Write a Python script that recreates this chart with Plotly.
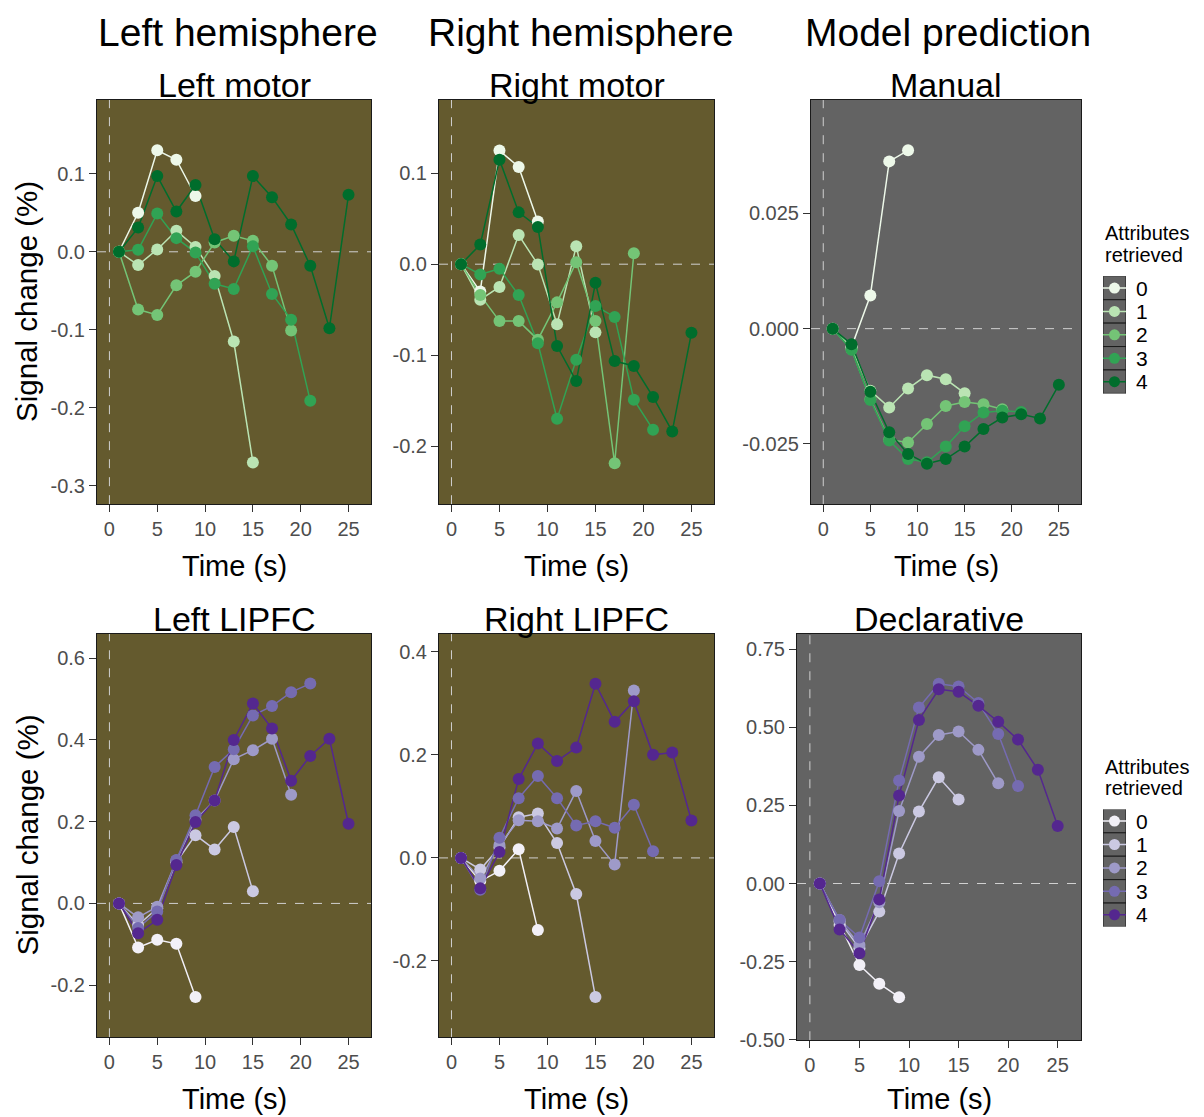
import plotly.graph_objects as go

# ---------------- data ----------------
TIME = [1, 3, 5, 7, 9, 11, 13, 15, 17, 19, 21, 23, 25]
ATTRIBUTES = ["0", "1", "2", "3", "4"]

LEFT_MOTOR = [
    [0, 0.05, 0.13, 0.118, 0.0715],
    [0, -0.017, 0.003, 0.027, 0.006, -0.031, -0.115, -0.27],
    [0, -0.074, -0.081, -0.043, -0.0255, 0.012, 0.0205, 0.014, -0.018, -0.101],
    [0, 0.0025, 0.049, 0.0175, -0.001, -0.041, -0.0476, 0.007, -0.054, -0.087, -0.191],
    [0, 0.031, 0.097, 0.0516, 0.0856, 0.016, -0.0123, 0.097, 0.070, 0.035, -0.018, -0.098, 0.073],
]
RIGHT_MOTOR = [
    [0, -0.03, 0.125, 0.107, 0.047],
    [0, -0.039, -0.025, 0.032, -0.0003, -0.066, 0.0198, -0.075],
    [0, -0.034, -0.0626, -0.0626, -0.083, -0.042, 0.0022, -0.0626, -0.219, 0.012],
    [0, -0.0113, -0.005, -0.034, -0.087, -0.170, -0.105, -0.046, -0.058, -0.149, -0.182],
    [0, 0.0216, 0.115, 0.057, 0.041, -0.090, -0.1286, -0.0205, -0.1066, -0.112, -0.146, -0.184, -0.0755],
]
MANUAL = [
    [0, -0.004, 0.0072, 0.0363, 0.0387],
    [0, -0.0041, -0.0135, -0.0171, -0.013, -0.0101, -0.011, -0.014],
    [0, -0.0045, -0.0153, -0.0241, -0.0247, -0.0207, -0.0168, -0.0159, -0.0164, -0.0175],
    [0, -0.0046, -0.0155, -0.0243, -0.0283, -0.029, -0.0256, -0.0212, -0.0182, -0.0178, -0.0181],
    [0, -0.0034, -0.0137, -0.0225, -0.0272, -0.0293, -0.0283, -0.0256, -0.0218, -0.0193, -0.0186, -0.0195, -0.0122],
]
LEFT_LIPFC = [
    [0, -0.108, -0.089, -0.099, -0.229],
    [0, -0.053, -0.012, 0.101, 0.167, 0.132, 0.187, 0.03],
    [0, -0.034, -0.008, 0.105, 0.205, 0.252, 0.353, 0.375, 0.403, 0.266],
    [0, -0.06, -0.02, 0.106, 0.216, 0.334, 0.377, 0.46, 0.483, 0.517, 0.538],
    [0, -0.073, -0.04, 0.094, 0.199, 0.252, 0.40, 0.489, 0.428, 0.30, 0.361, 0.403, 0.195],
]
RIGHT_LIPFC = [
    [0, -0.045, -0.025, 0.017, -0.14],
    [0, -0.0225, 0.02, 0.079, 0.086, 0.029, -0.07, -0.27],
    [0, -0.04, 0.025, 0.073, 0.071, 0.057, 0.13, 0.033, -0.013, 0.325],
    [0, -0.062, 0.039, 0.116, 0.159, 0.116, 0.063, 0.071, 0.0585, 0.103, 0.013],
    [0, -0.059, 0.0116, 0.153, 0.222, 0.188, 0.214, 0.338, 0.264, 0.304, 0.2, 0.2045, 0.0727],
]
DECLARATIVE = [
    [0, -0.133, -0.261, -0.321, -0.364],
    [0, -0.122, -0.207, -0.09, 0.096, 0.231, 0.34, 0.269],
    [0, -0.117, -0.197, -0.06, 0.232, 0.406, 0.476, 0.487, 0.428, 0.321],
    [0, -0.117, -0.173, 0.007, 0.33, 0.564, 0.64, 0.631, 0.578, 0.479, 0.312],
    [0, -0.147, -0.223, -0.051, 0.282, 0.524, 0.622, 0.614, 0.569, 0.518, 0.461, 0.364, 0.184],
]

COLUMN_TITLES = ["Left hemisphere", "Right hemisphere", "Model prediction"]
PANEL_TITLES = ["Left motor", "Right motor", "Manual", "Left LIPFC", "Right LIPFC", "Declarative"]
X_TITLE = "Time (s)"
Y_TITLE = "Signal change (%)"
LEGEND_TITLE = ["Attributes", "retrieved"]

X_TICKS = [0, 5, 10, 15, 20, 25]
LEFT_MOTOR_TICKS = [0.1, 0.0, -0.1, -0.2, -0.3]
LEFT_MOTOR_LABELS = ["0.1", "0.0", "-0.1", "-0.2", "-0.3"]
RIGHT_MOTOR_TICKS = [0.1, 0.0, -0.1, -0.2]
RIGHT_MOTOR_LABELS = ["0.1", "0.0", "-0.1", "-0.2"]
MANUAL_TICKS = [0.025, 0.0, -0.025]
MANUAL_LABELS = ["0.025", "0.000", "-0.025"]
LEFT_LIPFC_TICKS = [0.6, 0.4, 0.2, 0.0, -0.2]
LEFT_LIPFC_LABELS = ["0.6", "0.4", "0.2", "0.0", "-0.2"]
RIGHT_LIPFC_TICKS = [0.4, 0.2, 0.0, -0.2]
RIGHT_LIPFC_LABELS = ["0.4", "0.2", "0.0", "-0.2"]
DECLARATIVE_TICKS = [0.75, 0.5, 0.25, 0.0, -0.25, -0.5]
DECLARATIVE_LABELS = ["0.75", "0.50", "0.25", "0.00", "-0.25", "-0.50"]

# ---------------- styles ----------------
GREENS = ["#edf8e9", "#bae4b3", "#74c476", "#31a354", "#006d2c"]
PURPLES = ["#f2f0f7", "#cbc9e2", "#9e9ac8", "#756bb1", "#54278f"]
BROWN = "#645a2e"
GREY = "#636363"
FONT = "Liberation Sans, Arial, sans-serif"
W, H = 1204, 1117          # target picture size (positions below are in these pixels)
FIG_H = 1123               # figure height (screenshot is rescaled to H)

PANELS = [
    dict(data=LEFT_MOTOR, ticks=(LEFT_MOTOR_TICKS, LEFT_MOTOR_LABELS), pal=GREENS, bg=BROWN,
         box=(97, 371, 100, 506), yr=(-0.3235, 0.195)),
    dict(data=RIGHT_MOTOR, ticks=(RIGHT_MOTOR_TICKS, RIGHT_MOTOR_LABELS), pal=GREENS, bg=BROWN,
         box=(439, 714, 100, 506), yr=(-0.264, 0.181)),
    dict(data=MANUAL, ticks=(MANUAL_TICKS, MANUAL_LABELS), pal=GREENS, bg=GREY,
         box=(811, 1081, 100, 506), yr=(-0.0381, 0.0497)),
    dict(data=LEFT_LIPFC, ticks=(LEFT_LIPFC_TICKS, LEFT_LIPFC_LABELS), pal=PURPLES, bg=BROWN,
         box=(97, 371, 636, 1041), yr=(-0.3276, 0.660)),
    dict(data=RIGHT_LIPFC, ticks=(RIGHT_LIPFC_TICKS, RIGHT_LIPFC_LABELS), pal=PURPLES, bg=BROWN,
         box=(439, 714, 636, 1041), yr=(-0.348, 0.435)),
    dict(data=DECLARATIVE, ticks=(DECLARATIVE_TICKS, DECLARATIVE_LABELS), pal=PURPLES, bg=GREY,
         box=(797, 1081, 636, 1044), yr=(-0.502, 0.80)),
]
X_RANGE = (-1.3, 27.35)
ROW_XTITLE_Y = [568, 1103]


def px_x(v):
    return v / W


def px_y(v):
    return 1 - v / H


fig = go.Figure()
layout = dict(
    width=W, height=FIG_H, margin=dict(l=0, r=0, t=0, b=0),
    paper_bgcolor="white", plot_bgcolor="rgba(0,0,0,0)",
    showlegend=False, font=dict(family=FONT, color="black"),
)
shapes = []
annotations = []

for i, p in enumerate(PANELS):
    n = "" if i == 0 else str(i + 1)
    xa, ya = "x" + n, "y" + n
    x0, x1, y0, y1 = p["box"]
    tv, tt = p["ticks"]
    axis_common = dict(showgrid=False, zeroline=False, showline=True, mirror=True,
                       linecolor="#1a1a1a", linewidth=1, ticks="outside", ticklen=7,
                       tickwidth=1, tickcolor="#333333",
                       tickfont=dict(size=20, color="#4d4d4d", family=FONT))
    layout["xaxis" + n] = dict(domain=[px_x(x0), px_x(x1)], range=list(X_RANGE),
                               anchor=ya, tickvals=X_TICKS, **axis_common)
    layout["yaxis" + n] = dict(domain=[px_y(y1), px_y(y0)], range=list(p["yr"]),
                               anchor=xa, tickvals=tv, ticktext=tt, **axis_common)
    # panel background
    shapes.append(dict(type="rect", xref=xa + " domain", yref=ya + " domain",
                       x0=0, x1=1, y0=0, y1=1, fillcolor=p["bg"],
                       line=dict(width=0), layer="below"))
    # dashed reference lines
    shapes.append(dict(type="line", xref=xa, yref=ya + " domain", x0=0, x1=0, y0=0, y1=1,
                       line=dict(color="#d0d0d0", width=1, dash="dash"), layer="below"))
    shapes.append(dict(type="line", xref=xa + " domain", yref=ya, x0=0, x1=1, y0=0, y1=0,
                       line=dict(color="#d0d0d0", width=1, dash="dash"), layer="below"))
    # lines first, then points (like geom_line + geom_point)
    for k, series in enumerate(p["data"]):
        fig.add_trace(go.Scatter(x=TIME[:len(series)], y=series, mode="lines",
                                 line=dict(color=p["pal"][k], width=1.5),
                                 xaxis=xa, yaxis=ya, hoverinfo="skip",
                                 name=ATTRIBUTES[k]))
    for k, series in enumerate(p["data"]):
        fig.add_trace(go.Scatter(x=TIME[:len(series)], y=series, mode="markers",
                                 marker=dict(color=p["pal"][k], size=12, line=dict(width=0)),
                                 xaxis=xa, yaxis=ya, name=ATTRIBUTES[k]))
    # panel title
    cx = (x0 + x1) / 2
    annotations.append(dict(text=PANEL_TITLES[i], x=px_x(cx), y=px_y(y0 - 15),
                            xref="paper", yref="paper", showarrow=False,
                            xanchor="center", yanchor="middle",
                            font=dict(size=34, color="black", family=FONT)))
    # x-axis title
    annotations.append(dict(text=X_TITLE, x=px_x(cx), y=px_y(ROW_XTITLE_Y[i // 3]),
                            xref="paper", yref="paper", showarrow=False,
                            xanchor="center", yanchor="middle",
                            font=dict(size=29, color="black", family=FONT)))
    if i in (0, 3):
        annotations.append(dict(text=Y_TITLE, x=px_x(27), y=px_y((y0 + y1) / 2),
                                xref="paper", yref="paper", showarrow=False,
                                textangle=-90, xanchor="center", yanchor="middle",
                                font=dict(size=29.5, color="black", family=FONT)))

# column titles
for title, cx in zip(COLUMN_TITLES, [238, 581, 948]):
    annotations.append(dict(text=title, x=px_x(cx), y=px_y(33), xref="paper", yref="paper",
                            showarrow=False, xanchor="center", yanchor="middle",
                            font=dict(size=39, color="black", family=FONT)))

# manual legends (key boxes drawn on their own axes)
LEGENDS = [(GREENS, 277.3, "7"), (PURPLES, 812.3, "8")]
for pal, top, n in LEGENDS:
    xa, ya = "x" + n, "y" + n
    bottom = top + 23.5 * len(ATTRIBUTES)
    layout["xaxis" + n] = dict(domain=[px_x(1103), px_x(1126)], range=[0, 1],
                               visible=False, anchor=ya)
    layout["yaxis" + n] = dict(domain=[px_y(bottom), px_y(top)],
                               range=[len(ATTRIBUTES) - 0.5, -0.5], visible=False, anchor=xa)
    for k, lab in enumerate(ATTRIBUTES):
        shapes.append(dict(type="rect", xref=xa, yref=ya, x0=0, x1=1, y0=k - 0.5, y1=k + 0.5,
                           fillcolor=GREY, line=dict(color="#1a1a1a", width=1), layer="below"))
        fig.add_trace(go.Scatter(x=[0, 1], y=[k, k], mode="lines",
                                 line=dict(color=pal[k], width=1.5),
                                 xaxis=xa, yaxis=ya, hoverinfo="skip"))
        fig.add_trace(go.Scatter(x=[0.5], y=[k], mode="markers",
                                 marker=dict(color=pal[k], size=11),
                                 xaxis=xa, yaxis=ya, hoverinfo="skip"))
        annotations.append(dict(text=lab, x=1.35, y=k, xref=xa + " domain", yref=ya,
                                showarrow=False, xanchor="left", yanchor="middle",
                                font=dict(size=21, color="black", family=FONT)))
    annotations.append(dict(text=LEGEND_TITLE[0], x=px_x(1103), y=px_y(top - 43),
                            xref="paper", yref="paper", showarrow=False,
                            xanchor="left", yanchor="middle",
                            font=dict(size=20, color="black", family=FONT)))
    annotations.append(dict(text=LEGEND_TITLE[1], x=px_x(1103), y=px_y(top - 21),
                            xref="paper", yref="paper", showarrow=False,
                            xanchor="left", yanchor="middle",
                            font=dict(size=20, color="black", family=FONT)))

layout["shapes"] = shapes
layout["annotations"] = annotations
fig.update_layout(**layout)
fig.write_html("out.html", config={"displayModeBar": False},
               post_script="document.body.style.margin='0';")
